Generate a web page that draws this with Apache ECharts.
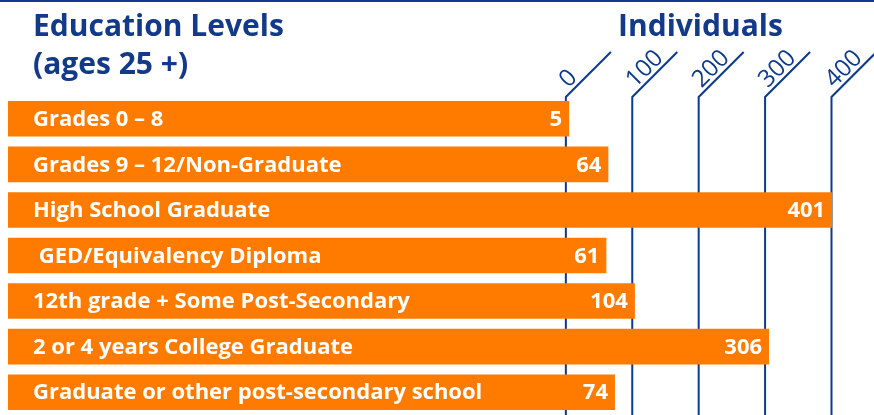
<!DOCTYPE html>
<html><head><meta charset="utf-8">
<script src="https://cdn.jsdelivr.net/npm/echarts@6/dist/echarts.min.js"></script>
<style>html,body{margin:0;padding:0;background:#fff}#c{width:874px;height:415px}</style>
</head><body><div id="c"></div>
<script>
const categories = ['Grades 0 – 8', 'Grades 9 – 12/Non-Graduate', 'High School Graduate', ' GED/Equivalency Diploma', '12th grade + Some Post-Secondary', '2 or 4 years College Graduate', 'Graduate or other post-secondary school'];
const values = [5, 64, 401, 61, 104, 306, 74];
const tickValues = [0, 100, 200, 300, 400];
const tickLabels = ['0', '100', '200', '300', '400'];

const X_MIN = -840, X_MAX = 464;
const ORANGE = '#FF7B00', BLUE = '#0B3A8E', TITLE = '#12398A';
const FONT = '"Open Sans", Lato, sans-serif';
const S2 = Math.SQRT2;

const chart = echarts.init(document.getElementById('c'));
chart.setOption({
  animation: false,
  grid: { left: 8, right: 0, top: 96, height: 322 },
  xAxis: { type: 'value', min: X_MIN, max: X_MAX, show: false },
  yAxis: { type: 'category', data: categories, inverse: true, show: false },
  graphic: [
    { type: 'line', shape: { x1: 0, y1: 1, x2: 874, y2: 1 }, style: { stroke: BLUE, lineWidth: 2 } },
    { type: 'text', x: 33, y: 27, style: { text: 'Education Levels', fill: TITLE, font: 'bold 30px ' + FONT, verticalAlign: 'middle' } },
    { type: 'text', x: 33, y: 65, style: { text: '(ages 25 +)', fill: TITLE, font: 'bold 30px ' + FONT, verticalAlign: 'middle' } },
    { type: 'text', x: 618, y: 27, style: { text: 'Individuals', fill: TITLE, font: 'bold 30px ' + FONT, verticalAlign: 'middle' } }
  ],
  series: [
    {
      type: 'custom', z: 1, clip: false,
      data: tickValues.map((v, i) => [v, 0, i]),
      encode: { x: 0, y: 1 },
      renderItem: function (params, api) {
        const v = api.value(0);
        const i = params.dataIndex;
        const x = api.coord([v, 0])[0];
        const cs = params.coordSys;
        const top = cs.y + 1;
        const bottom = cs.y + cs.height;
        const L = 45, a = 8, p = 11;
        return {
          type: 'group', children: [
            { type: 'polyline', shape: { points: [[x, bottom], [x, top], [x + L, top - L]] }, style: { stroke: BLUE, lineWidth: 2, fill: null } },
            { type: 'text', x: x + (a - p) / S2, y: top - (a + p) / S2, rotation: Math.PI / 4,
              style: { text: tickLabels[i], fill: BLUE, font: '24px ' + FONT, align: 'left', verticalAlign: 'middle' } }
          ]
        };
      }
    },
    {
      type: 'custom', z: 2, clip: false,
      data: categories.map((c, i) => [c, values[i]]),
      encode: { x: 1, y: 0 },
      renderItem: function (params, api) {
        const idx = params.dataIndex;
        const v = api.value(1);
        const s = api.coord([X_MIN, idx]);
        const e = api.coord([v, idx]);
        const h = api.size([0, 1])[1] * 0.78;
        return {
          type: 'group', children: [
            { type: 'rect', shape: { x: s[0], y: s[1] - h / 2, width: e[0] - s[0], height: h }, style: { fill: ORANGE } },
            { type: 'text', x: s[0] + 25, y: s[1] + 1, style: { text: categories[idx], fill: '#fff', font: 'bold 22px ' + FONT, verticalAlign: 'middle' } },
            { type: 'text', x: e[0] - 7, y: s[1] + 1, style: { text: String(v), fill: '#fff', font: 'bold 22px ' + FONT, align: 'right', verticalAlign: 'middle' } }
          ]
        };
      }
    }
  ]
});
</script></body></html>
